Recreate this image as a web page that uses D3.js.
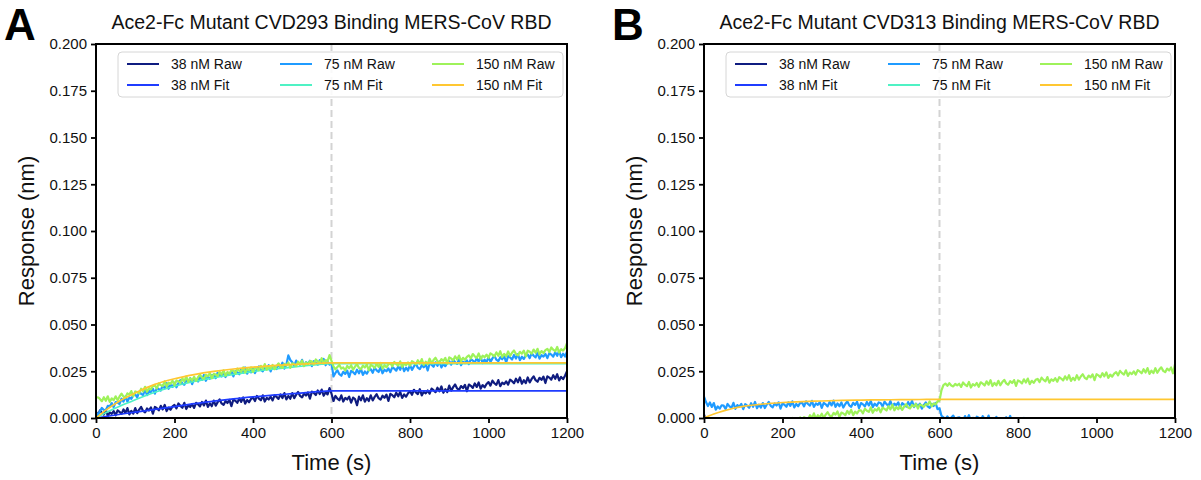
<!DOCTYPE html>
<html>
<head>
<meta charset="utf-8">
<script src="https://cdn.jsdelivr.net/npm/d3@7"></script>
<style>
body { margin: 0; background: #fff; }
svg { font-family: "Liberation Sans", Arial, sans-serif; }
</style>
</head>
<body>
<svg width="1201" height="480"></svg>
<script>
// all responses below are in thousandths of a nm (0.001 nm)
const unit = 0.001;
// raw traces sampled every 5 s starting at t = 0, one row = 50 s
const raw_dt = 5;
const switch_time = 600;

const x_ticks = [0, 200, 400, 600, 800, 1000, 1200];
const y_ticks = [0, 0.025, 0.05, 0.075, 0.1, 0.125, 0.15, 0.175, 0.2];

const labels = ["38 nM Raw", "38 nM Fit", "75 nM Raw", "75 nM Fit", "150 nM Raw", "150 nM Fit"];
const colors = ["#0f1c80", "#1f3cff", "#1f9bff", "#4ff2c4", "#9ef25a", "#ffc731"];

const titles = [
    "Ace2-Fc Mutant CVD293 Binding MERS-CoV RBD",
    "Ace2-Fc Mutant CVD313 Binding MERS-CoV RBD"
];

// ---- panel A ----
const a_raw_38 = [
    3.3, 1.4, 4.1, 2.7, 1.8, 4.4, 1.1, 3.0, 2.2, 3.7,
    1.4, 4.1, 3.3, 2.2, 4.6, 2.7, 5.3, 1.9, 3.8, 2.3,
    5.3, 2.6, 4.5, 5.9, 3.8, 3.0, 5.1, 4.0, 5.7, 2.3,
    5.9, 5.2, 4.1, 6.5, 4.6, 7.0, 3.7, 5.6, 4.4, 6.2,
    7.0, 5.1, 7.8, 6.4, 5.5, 8.1, 4.8, 6.7, 5.9, 7.4,
    5.4, 8.1, 7.3, 6.2, 8.6, 6.7, 9.3, 5.9, 7.8, 6.3,
    9.3, 6.6, 8.5, 9.9, 7.8, 7.0, 9.1, 8.0, 9.7, 6.3,
    9.9, 9.2, 8.1, 10.5, 8.6, 11.0, 7.7, 9.6, 8.4, 10.2,
    11.0, 9.1, 11.8, 10.4, 9.5, 12.1, 8.8, 10.7, 9.9, 11.4,
    9.4, 12.1, 11.3, 10.2, 12.6, 10.7, 13.3, 9.9, 11.8, 10.3,
    13.3, 10.6, 12.5, 13.9, 11.8, 11.0, 13.1, 12.0, 13.7, 10.3,
    14.1, 13.4, 12.3, 14.7, 12.8, 15.2, 11.9, 13.8, 12.6, 16.0,
    13.0, 9.1, 11.8, 10.4, 9.5, 12.1, 8.8, 10.7, 9.9, 11.4,
    8.2, 10.9, 10.1, 6.8, 11.4, 9.5, 12.1, 8.7, 10.6, 9.1,
    12.1, 9.4, 11.3, 12.7, 10.6, 9.8, 11.9, 10.8, 12.5, 9.1,
    12.9, 12.2, 11.1, 13.5, 11.6, 14.0, 10.7, 12.6, 11.4, 13.2,
    14.3, 12.4, 15.1, 13.7, 12.8, 15.4, 12.1, 14.0, 13.2, 14.7,
    13.0, 15.7, 14.9, 13.8, 16.2, 14.3, 16.9, 13.5, 15.4, 13.9,
    17.3, 14.6, 16.5, 17.9, 15.8, 15.0, 17.1, 16.0, 17.7, 14.3,
    17.9, 17.2, 16.1, 18.5, 16.6, 19.0, 15.7, 17.6, 16.4, 18.2,
    19.2, 17.3, 20.0, 18.6, 17.7, 20.3, 17.0, 18.9, 18.1, 19.6,
    17.8, 20.5, 19.7, 18.6, 21.0, 19.1, 21.7, 18.3, 20.2, 18.7,
    21.7, 19.0, 20.9, 22.3, 20.2, 19.4, 21.5, 20.4, 22.1, 18.7,
    22.3, 21.6, 20.5, 22.9, 21.0, 23.4, 20.1, 22.0, 20.8, 22.6,
    25.0
];
const a_raw_75 = [
    2.9, 1.4, 3.6, 5.4, 4.3, 4.2, 6.5, 6.1, 8.0, 5.8,
    8.5, 8.2, 7.5, 10.3, 8.8, 11.6, 8.7, 11.0, 10.2, 12.4,
    12.6, 11.0, 14.0, 12.9, 12.3, 15.2, 12.2, 14.4, 13.9, 15.7,
    13.0, 16.0, 15.5, 14.7, 17.4, 15.8, 18.7, 15.6, 17.8, 16.6,
    18.9, 16.4, 18.6, 20.2, 18.4, 17.8, 20.2, 19.3, 21.3, 18.1,
    20.9, 20.4, 19.5, 22.1, 20.4, 23.0, 19.9, 22.0, 21.0, 23.0,
    23.0, 21.3, 24.2, 23.0, 22.3, 25.0, 21.9, 24.0, 23.4, 25.1,
    22.2, 25.0, 24.4, 23.4, 26.0, 24.2, 27.0, 23.7, 25.8, 24.4,
    26.6, 24.0, 26.1, 27.6, 25.7, 25.0, 27.3, 26.3, 28.2, 24.9,
    27.7, 27.2, 26.2, 28.8, 27.0, 29.6, 26.4, 28.5, 33.5, 31.0,
    29.8, 27.9, 30.7, 29.3, 28.4, 31.1, 27.8, 29.8, 29.1, 30.6,
    27.7, 30.4, 29.6, 28.5, 30.9, 29.0, 31.6, 28.2, 30.1, 28.6,
    29.5, 22.2, 24.1, 25.5, 23.4, 22.6, 24.7, 23.6, 25.3, 21.9,
    25.2, 24.5, 23.4, 25.8, 23.9, 26.3, 23.0, 24.9, 23.7, 25.5,
    26.1, 24.2, 26.9, 25.5, 24.6, 27.2, 23.9, 25.8, 25.0, 26.5,
    24.5, 27.2, 26.4, 25.3, 27.7, 25.8, 28.4, 25.0, 26.9, 25.4,
    28.4, 25.7, 27.6, 29.0, 26.9, 26.1, 28.2, 27.1, 28.8, 25.4,
    29.2, 28.5, 27.4, 29.8, 27.9, 30.3, 27.0, 28.9, 27.7, 29.5,
    30.4, 28.5, 31.2, 29.8, 28.9, 31.5, 28.2, 30.1, 29.3, 30.8,
    28.8, 31.5, 30.7, 29.6, 32.0, 30.1, 32.7, 29.3, 31.2, 29.7,
    32.7, 30.0, 31.9, 33.3, 31.2, 30.4, 32.5, 31.4, 33.1, 29.7,
    33.1, 32.4, 31.3, 33.7, 31.8, 34.2, 30.9, 32.8, 31.6, 33.4,
    33.9, 32.0, 34.7, 33.3, 32.4, 35.0, 31.7, 33.6, 32.8, 34.3,
    32.0, 34.7, 33.9, 32.8, 35.2, 33.3, 35.9, 32.5, 34.4, 32.9,
    35.5
];
const a_raw_150 = [
    10.8, 11.1, 10.2, 9.0, 11.1, 9.2, 11.6, 8.6, 10.5, 9.5,
    11.6, 9.5, 11.5, 13.0, 11.4, 11.0, 13.2, 12.5, 14.4, 11.6,
    14.2, 13.9, 13.2, 15.7, 14.3, 16.7, 14.0, 16.1, 15.3, 17.2,
    17.3, 15.9, 18.5, 17.6, 17.0, 19.6, 16.8, 18.9, 18.3, 20.0,
    17.5, 20.1, 19.6, 18.8, 21.2, 19.6, 22.2, 19.3, 21.2, 20.1,
    22.1, 19.9, 21.8, 23.2, 21.5, 21.0, 23.1, 22.3, 24.1, 21.2,
    23.6, 23.2, 22.4, 24.7, 23.2, 25.5, 22.6, 24.6, 23.7, 25.5,
    25.4, 23.8, 26.4, 25.3, 24.7, 27.1, 24.3, 26.2, 25.6, 27.1,
    24.5, 27.0, 26.5, 25.6, 27.9, 26.2, 28.8, 25.8, 27.6, 26.5,
    28.4, 26.1, 27.9, 29.2, 27.4, 26.8, 28.9, 28.0, 29.7, 26.8,
    29.2, 28.7, 27.8, 30.1, 28.5, 30.7, 27.8, 29.7, 28.7, 30.4,
    30.3, 28.7, 31.3, 30.2, 29.5, 32.0, 29.1, 31.0, 30.4, 33.6,
    30.5, 27.6, 26.0, 27.3, 28.4, 26.4, 27.0, 25.4, 27.9, 26.6,
    28.2, 25.8, 27.5, 28.7, 26.8, 26.1, 28.0, 27.0, 28.6, 25.5,
    28.4, 27.8, 26.8, 29.0, 27.3, 29.4, 26.4, 28.2, 27.1, 28.7,
    29.3, 27.6, 30.0, 28.8, 28.0, 30.3, 27.3, 29.1, 28.3, 29.7,
    28.0, 30.4, 29.7, 28.7, 30.9, 29.1, 31.5, 28.4, 30.1, 28.8,
    31.7, 29.3, 31.0, 32.2, 30.3, 29.6, 31.5, 30.5, 32.1, 29.0,
    32.4, 31.8, 30.8, 33.0, 31.3, 33.4, 30.4, 32.2, 31.1, 32.7,
    33.5, 31.8, 34.2, 33.0, 32.2, 34.5, 31.5, 33.3, 32.5, 33.9,
    32.2, 34.6, 33.9, 32.9, 35.1, 33.3, 35.7, 32.6, 34.3, 33.0,
    35.6, 33.2, 34.9, 36.1, 34.2, 33.5, 35.4, 34.4, 36.0, 32.9,
    36.0, 35.4, 34.4, 36.6, 34.9, 37.0, 34.0, 35.8, 34.7, 36.3,
    37.0, 35.3, 37.7, 36.5, 35.7, 38.0, 35.0, 36.8, 36.0, 37.4,
    40.0
];

// fitted curves are read at these times
const fit_times = [0, 25, 50, 75, 100, 150, 200, 250, 300, 350, 400, 450, 500, 550, 600, 1200];
const a_fit_38 = [0, 0.8, 1.6, 2.4, 3.1, 4.6, 6.1, 7.7, 9.0, 10.2, 11.3, 12.2, 13.0, 13.8, 14.5, 14.5];
const a_fit_75 = [0, 2.8, 5.3, 7.6, 9.8, 13.8, 17.0, 19.5, 21.5, 23.3, 24.8, 26.1, 27.2, 28.2, 29.0, 29.0];
const a_fit_150 = [0, 4.2, 7.8, 10.8, 13.4, 18.0, 21.0, 23.2, 24.9, 26.2, 27.2, 28.0, 28.6, 29.1, 29.5, 29.5];

// ---- panel B ----
const b_raw_38 = [1.8, -1.2, -3.5, -5.1, -6.4, -7.2];
const b_raw_75 = [
    11.5, 8.5, 6.4, 8.3, 5.9, 8.0, 4.5, 6.2, 5.0, 6.8,
    6.6, 4.8, 7.5, 6.2, 5.4, 8.1, 4.9, 6.9, 6.1, 7.6,
    4.7, 7.4, 6.6, 5.5, 7.9, 6.0, 8.6, 5.2, 7.1, 5.6,
    8.0, 5.3, 7.2, 8.6, 6.5, 5.7, 7.8, 6.7, 8.4, 5.0,
    7.8, 7.1, 6.0, 8.4, 6.5, 8.9, 5.6, 7.5, 6.3, 8.1,
    8.1, 6.2, 8.9, 7.5, 6.6, 9.2, 5.9, 7.8, 7.0, 8.5,
    5.4, 8.1, 7.3, 6.2, 8.6, 6.7, 9.3, 5.9, 7.8, 6.3,
    8.3, 5.6, 7.5, 8.9, 6.8, 6.0, 8.1, 7.0, 8.7, 5.3,
    8.0, 7.3, 6.2, 8.6, 6.7, 9.1, 5.8, 7.7, 6.5, 8.3,
    8.0, 6.1, 8.8, 7.4, 6.5, 9.1, 5.8, 7.7, 6.9, 8.4,
    5.3, 8.0, 7.2, 6.1, 8.5, 6.6, 9.2, 5.8, 7.7, 6.2,
    7.7, 5.0, 6.9, 8.3, 6.2, 5.4, 7.5, 6.4, 8.1, 4.7,
    5.2, 1.2, 0.3, -0.6, 0.9, -0.4, 0.2, 1.3, -0.8, 0.1,
    0.4, -0.3, -1.4, 1.0, -0.9, 1.5, -1.8, 0.1, -1.1, 0.7,
    0.2, -1.7, 1.0, -0.4, -1.3, 1.3, -2.0, -0.1, -0.9, 0.6,
    -2.8, -0.1, -0.9, -2.0, 0.4, -1.5, 1.1, -2.3, -0.4, -1.9,
    -0.5, -3.2, -1.3, 0.1, -2.0, -2.8, -0.7, -1.8, -0.1, -3.5,
    -1.8, -2.5, -3.6, -1.2, -3.1, -0.7, -4.0, -2.1, -3.3, -1.5
];
const b_raw_150 = [
    -7.7, -9.2, -6.8, -7.7, -8.3, -6.2, -8.9, -7.1, -7.5, -6.4,
    -8.6, -6.1, -6.7, -7.4, -5.4, -6.9, -4.6, -7.4, -5.7, -6.8,
    -4.8, -7.1, -5.3, -3.9, -5.7, -6.1, -4.3, -5.1, -3.6, -6.5,
    -4.0, -4.4, -5.2, -2.8, -4.2, -2.3, -4.8, -3.2, -4.1, -2.3,
    -2.3, -3.7, -1.1, -2.0, -2.6, 0.0, -2.8, -0.8, -1.3, 0.3,
    -2.2, 0.4, -0.1, -0.9, 1.5, -0.1, 2.5, -0.4, 1.5, 0.4,
    2.3, 0.0, 1.8, 3.1, 1.3, 0.7, 2.7, 1.8, 3.5, 0.5,
    2.9, 2.4, 1.5, 3.8, 2.2, 4.4, 1.5, 3.4, 2.4, 4.1,
    4.1, 2.5, 5.0, 3.9, 3.3, 5.7, 2.8, 4.7, 4.0, 5.5,
    3.0, 5.5, 4.9, 4.0, 6.3, 4.6, 7.1, 4.1, 5.9, 4.7,
    6.6, 4.3, 6.1, 7.4, 5.6, 5.1, 7.0, 6.1, 7.6, 5.0,
    7.2, 6.8, 6.0, 7.4, 7.1, 8.9, 6.2, 7.8, 7.2, 8.9,
    9.3, 14.8, 17.6, 18.4, 17.2, 18.6, 17.4, 16.9, 18.2, 17.5,
    18.3, 16.6, 19.0, 17.8, 17.0, 19.3, 16.3, 18.1, 17.3, 18.7,
    16.7, 19.1, 18.4, 17.4, 19.6, 17.8, 20.2, 17.1, 18.8, 17.5,
    19.9, 17.5, 19.2, 20.4, 18.5, 17.8, 19.7, 18.7, 20.3, 17.2,
    20.1, 19.5, 18.5, 20.7, 19.0, 21.1, 18.1, 19.9, 18.8, 20.4,
    20.9, 19.2, 21.6, 20.4, 19.6, 21.9, 18.9, 20.7, 19.9, 21.3,
    19.4, 21.8, 21.1, 20.1, 22.3, 20.5, 22.9, 19.8, 21.5, 20.2,
    22.9, 20.5, 22.2, 23.4, 21.5, 20.8, 22.7, 21.7, 23.3, 20.2,
    23.4, 22.8, 21.8, 24.0, 22.3, 24.4, 21.4, 23.2, 22.1, 23.7,
    24.5, 22.8, 25.2, 24.0, 23.2, 25.5, 22.5, 24.3, 23.5, 24.9,
    23.2, 25.6, 24.9, 23.9, 26.1, 24.3, 26.7, 23.6, 25.3, 24.0,
    26.6, 24.2, 25.9, 27.1, 25.2, 24.5, 26.4, 25.4, 27.0, 23.9,
    28.8
];
// 38 nM and 75 nM fits of panel B stay below the visible range
const b_fit_38 = [];
const b_fit_75 = [];
const b_fit_150 = [0, 2.1, 3.8, 5.2, 6.2, 7.5, 8.3, 8.8, 9.1, 9.4, 9.6, 9.7, 9.8, 9.9, 10.0, 10.0];

const panels = [
    { letter: "A", title: titles[0], left: 96, raw: [a_raw_38, a_raw_75, a_raw_150], fit: [a_fit_38, a_fit_75, a_fit_150] },
    { letter: "B", title: titles[1], left: 704, raw: [b_raw_38, b_raw_75, b_raw_150], fit: [b_fit_38, b_fit_75, b_fit_150] }
];

const svg = d3.select("svg");
const top_y = 44;
const inner_width = 471;
const inner_height = 374;

const x_scale = d3.scaleLinear().domain([0, 1200]).range([0, inner_width]);
const y_scale = d3.scaleLinear().domain([0, 0.2]).range([inner_height, 0]);

const drawPanel = (p, k) => {
    const g = svg.append("g").attr("transform", `translate(${p.left}, ${top_y})`);

    g.append("clipPath").attr("id", "clip" + k)
        .append("rect").attr("width", inner_width).attr("height", inner_height);

    // dashed marker where dissociation starts
    g.append("line")
        .attr("x1", x_scale(switch_time)).attr("x2", x_scale(switch_time))
        .attr("y1", 0).attr("y2", inner_height)
        .style("stroke", "#d3d3d3").style("stroke-width", 2)
        .style("stroke-dasharray", "7,4");

    const data_g = g.append("g").attr("clip-path", `url(#clip${k})`);
    const raw_line = d3.line().x((d, i) => x_scale(i * raw_dt)).y((d) => y_scale(d * unit));
    const fit_line = d3.line().curve(d3.curveMonotoneX)
        .x((d, i) => x_scale(fit_times[i])).y((d) => y_scale(d * unit));

    for (let c = 0; c < 3; c++) {
        if (p.raw[c].length) {
            data_g.append("path").attr("d", raw_line(p.raw[c]))
                .style("fill", "none").style("stroke", colors[c * 2])
                .style("stroke-width", 2.2).style("stroke-linejoin", "round");
        }
        if (p.fit[c].length) {
            data_g.append("path").attr("d", fit_line(p.fit[c]))
                .style("fill", "none").style("stroke", colors[c * 2 + 1])
                .style("stroke-width", 1.7);
        }
    }

    // axes
    const x_axis = g.append("g").attr("transform", `translate(0, ${inner_height})`)
        .call(d3.axisBottom(x_scale).tickValues(x_ticks).tickSize(5).tickPadding(4).tickFormat(d3.format("d")));
    const y_axis = g.append("g")
        .call(d3.axisLeft(y_scale).tickValues(y_ticks).tickSize(5).tickPadding(4).tickFormat(d3.format(".3f")));
    [x_axis, y_axis].forEach((a) => {
        a.select(".domain").remove();
        a.selectAll(".tick line").style("stroke", "#000").style("stroke-width", 1.8);
        a.selectAll(".tick text").style("font-size", "15px").style("fill", "#111")
            .style("font-family", "'Liberation Sans', Arial, sans-serif");
    });

    g.append("rect").attr("width", inner_width).attr("height", inner_height)
        .style("fill", "none").style("stroke", "#000").style("stroke-width", 2);

    // legend
    const leg = g.append("g").attr("transform", "translate(22, 8)");
    leg.append("rect").attr("width", 445).attr("height", 45).attr("rx", 4)
        .style("fill", "#fff").style("fill-opacity", 0.85)
        .style("stroke", "#d6d6d6").style("stroke-width", 1);
    const col_x = [9, 162, 314];
    labels.forEach((l, i) => {
        const cx = col_x[Math.floor(i / 2)];
        const cy = 12 + (i % 2) * 21;
        leg.append("line").attr("x1", cx).attr("x2", cx + 32).attr("y1", cy).attr("y2", cy)
            .style("stroke", colors[i]).style("stroke-width", 2);
        leg.append("text").attr("x", cx + 44).attr("y", cy + 5)
            .style("font-size", "14px").style("fill", "#111").text(l);
    });

    // title, axis labels and panel letter
    g.append("text").attr("x", inner_width / 2).attr("y", -15)
        .attr("text-anchor", "middle").style("font-size", "19.5px").style("fill", "#111").text(p.title);
    g.append("text").attr("x", inner_width / 2).attr("y", inner_height + 52)
        .attr("text-anchor", "middle").style("font-size", "22px").style("fill", "#111").text("Time (s)");
    g.append("text").attr("transform", `translate(-62, ${inner_height / 2}) rotate(-90)`)
        .attr("text-anchor", "middle").style("font-size", "22px").style("fill", "#111").text("Response (nm)");
    svg.append("text").attr("x", p.left - 92).attr("y", 40)
        .style("font-size", "44px").style("font-weight", "bold").style("fill", "#000").text(p.letter);
};

panels.forEach(drawPanel);
</script>
</body>
</html>
